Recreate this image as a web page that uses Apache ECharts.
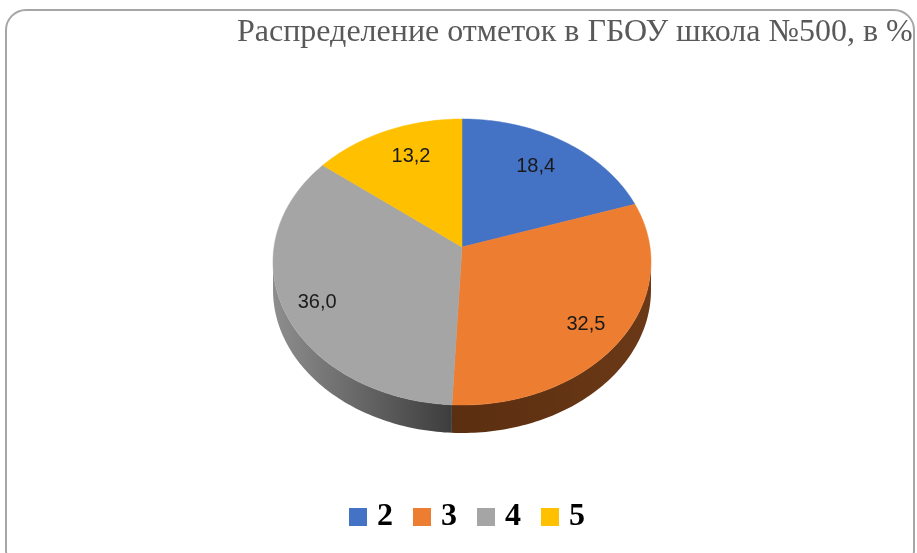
<!DOCTYPE html>
<html>
<head>
<meta charset="utf-8">
<script src="https://cdn.jsdelivr.net/npm/echarts@6/dist/echarts.min.js"></script>
<style>
  html, body { margin: 0; padding: 0; background: #fff; }
  #chart { width: 917px; height: 553px; }
</style>
</head>
<body>
<div id="chart"></div>
<script>
const categories = ['2', '3', '4', '5']
const values = [18.4, 32.5, 36.0, 13.2]
const valueLabels = ['18,4', '32,5', '36,0', '13,2']
const colors = ['#4472c4', '#ed7d31', '#a5a5a5', '#ffc000']
// side wall shading (only slices on the front half show a wall)
const sideColors = [null, ['#5a2e10', '#6b3917'], ['#8e8e8e', '#3d3d3d'], null]

// pseudo-3D ellipse geometry
const cx = 462, cy = 262, rx = 189, ry = 143, depth = 28, apexLift = 15
const total = values.reduce((s, v) => s + v, 0)

function rim(t, dy) {
  return [cx + rx * Math.sin(t), cy - ry * Math.cos(t) + (dy || 0)]
}
function arc(a0, a1, dy) {
  const pts = []
  const n = Math.max(2, Math.ceil((a1 - a0) / 0.02))
  for (let k = 0; k <= n; k++) pts.push(rim(a0 + (a1 - a0) * k / n, dy))
  return pts
}

function renderSlice(params, api) {
  const i = params.seriesIndex
  const before = values.slice(0, i).reduce((s, v) => s + v, 0)
  const a0 = before / total * 2 * Math.PI
  const a1 = (before + api.value(0)) / total * 2 * Math.PI
  const color = api.visual('color')
  const children = []
  const s0 = Math.max(a0, Math.PI / 2)
  const s1 = Math.min(a1, Math.PI * 1.5)
  if (s1 > s0 && sideColors[i]) {
    const top = arc(s0, s1, 0)
    const bottom = arc(s0, s1, depth).reverse()
    children.push({
      type: 'polygon',
      shape: { points: top.concat(bottom) },
      style: {
        fill: new echarts.graphic.LinearGradient(0, 0, 1, 0, [
          { offset: 0, color: sideColors[i][0] },
          { offset: 1, color: sideColors[i][1] }
        ])
      }
    })
  }
  children.push({
    type: 'polygon',
    shape: { points: [[cx, cy - apexLift]].concat(arc(a0, a1, 0)) },
    style: { fill: color, stroke: color, lineWidth: 0.5 }
  })
  // labels sit further out on the wide (left/right) slices, like Excel's best fit
  const m = (a0 + a1) / 2
  const s = Math.abs(Math.sin(m))
  const fx = 0.55 + 0.3 * s
  const fy = 0.85 - 0.1 * s
  children.push({
    type: 'text',
    z2: 10,
    style: {
      text: valueLabels[i],
      x: cx + fx * rx * Math.sin(m),
      y: cy - fy * ry * Math.cos(m),
      align: 'center',
      verticalAlign: 'middle',
      fill: '#1a1a1a',
      font: '20px "Liberation Sans", Arial, sans-serif'
    }
  })
  return { type: 'group', children }
}

const chart = echarts.init(document.getElementById('chart'))
const option = {
  animation: false,
  color: colors,
  title: {
    text: 'Распределение отметок в ГБОУ школа №500, в %',
    left: 237,
    top: 17,
    padding: 0,
    textStyle: {
      fontFamily: '"Liberation Serif", "Times New Roman", serif',
      fontSize: 32,
      fontWeight: 'normal',
      color: '#595959'
    }
  },
  legend: {
    data: categories,
    left: 344,
    top: 496,
    icon: 'rect',
    itemWidth: 18,
    itemHeight: 18,
    itemGap: 20,
    selectedMode: false,
    textStyle: {
      fontFamily: '"Liberation Serif", "Times New Roman", serif',
      fontSize: 32,
      fontWeight: 'bold',
      color: '#000',
      padding: [0, 0, 0, 5]
    }
  },
  graphic: [{
    type: 'rect',
    shape: { x: 6, y: 10, width: 908, height: 560, r: 20 },
    style: { fill: 'none', stroke: '#a6a6a6', lineWidth: 2 },
    silent: true
  }],
  series: categories.map((name, i) => ({
    type: 'custom',
    name,
    coordinateSystem: 'none',
    silent: true,
    itemStyle: { color: colors[i] },
    data: [values[i]],
    renderItem: renderSlice
  }))
}
chart.setOption(option)
</script>
</body>
</html>
